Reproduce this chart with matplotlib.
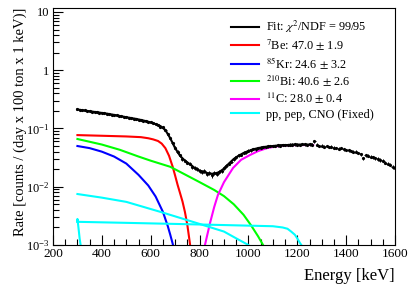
import numpy as np
import matplotlib.pyplot as plt
from matplotlib.ticker import FixedLocator, FuncFormatter, LogLocator, MultipleLocator

# binned data, 10 keV bins
data_energy = list(range(300, 1610, 10))
data_rate = [
    0.215, 0.208, 0.204, 0.205, 0.198, 0.199, 0.194, 0.192, 0.190, 0.186,
    0.186, 0.181, 0.178, 0.178, 0.173, 0.171, 0.168, 0.163, 0.163, 0.158,
    0.156, 0.152, 0.152, 0.147, 0.146, 0.142, 0.141, 0.136, 0.134, 0.131,
    0.128, 0.122, 0.119, 0.116, 0.108, 0.104, 0.094, 0.082, 0.069, 0.056,
    0.047, 0.040, 0.035, 0.030, 0.028, 0.026, 0.025, 0.022, 0.021, 0.0205,
    0.019, 0.018, 0.0185, 0.0165, 0.0172, 0.0158, 0.0172, 0.0165, 0.0182, 0.0190,
    0.0212, 0.0225, 0.0250, 0.0270, 0.0300, 0.0318, 0.0345, 0.0355, 0.0385, 0.0392,
    0.0415, 0.0420, 0.0445, 0.0440, 0.0465, 0.0470, 0.0482, 0.0485, 0.0495, 0.0500,
    0.0505, 0.0498, 0.0515, 0.0510, 0.0525, 0.0518, 0.0522, 0.0530, 0.0528, 0.0535,
    0.0530, 0.0520, 0.0540, 0.0532, 0.0525, 0.0535, 0.0528,
    0.0600, 0.0530, 0.0500, 0.0510, 0.0490, 0.0500, 0.0480, 0.0490, 0.0470, 0.0460,
    0.0450, 0.0460, 0.0440, 0.0430, 0.0420, 0.0410, 0.0400, 0.0400, 0.0380, 0.0360,
    0.0310, 0.0350, 0.0340, 0.0330, 0.0320, 0.0310, 0.0300, 0.0290, 0.0280, 0.0260,
    0.0250, 0.0240, 0.0220, 0.0210,
]
# exposure per bin used for the Poisson error bars
bin_exposure = 8000.0

fit_energy = [300, 320, 340, 360, 380, 400, 420, 440, 460, 480, 500, 520, 540, 560,
              580, 600, 620, 640, 660, 680, 700, 720, 740, 760, 780, 800, 820, 840,
              860, 880, 900, 920, 940, 960, 980, 1000, 1020, 1040, 1060, 1080, 1100,
              1120, 1140, 1160, 1180, 1200, 1220, 1240, 1260]
fit_rate = [0.212, 0.206, 0.200, 0.195, 0.190, 0.185, 0.180, 0.174, 0.168, 0.162,
            0.156, 0.151, 0.146, 0.140, 0.134, 0.127, 0.119, 0.110, 0.094, 0.068,
            0.046, 0.034, 0.028, 0.0245, 0.021, 0.019, 0.0177, 0.0168, 0.0167, 0.0178,
            0.0205, 0.025, 0.030, 0.034, 0.038, 0.041, 0.044, 0.046, 0.048, 0.049,
            0.050, 0.051, 0.052, 0.052, 0.053, 0.053, 0.053, 0.053, 0.053]

be7_energy = [300, 400, 500, 560, 590, 610, 630, 645, 660, 675, 690, 700, 710, 720,
              730, 740, 750, 760, 770]
be7_rate = [0.077, 0.075, 0.073, 0.071, 0.068, 0.065, 0.061, 0.055, 0.046, 0.034,
            0.022, 0.0155, 0.0108, 0.0078, 0.0056, 0.0037, 0.0022, 0.0011, 0.0005]

kr85_energy = [300, 350, 400, 450, 500, 550, 590, 620, 650, 670, 680, 690, 700]
kr85_rate = [0.050, 0.046, 0.040, 0.033, 0.025, 0.016, 0.0105, 0.0068, 0.0037,
             0.0021, 0.0015, 0.00105, 0.0007]

bi210_energy = [300, 400, 474, 550, 600, 680, 720, 800, 860, 900, 940, 980, 1010,
                1040, 1060, 1070]
bi210_rate = [0.066, 0.053, 0.043, 0.033, 0.028, 0.022, 0.018, 0.012, 0.0088, 0.0069,
              0.0050, 0.0033, 0.0022, 0.0014, 0.0010, 0.0008]

c11_energy = [815, 822, 843, 860, 875, 900, 937, 970, 1006, 1040, 1076, 1110, 1150,
              1200, 1265]
c11_rate = [0.0007, 0.001, 0.0024, 0.0045, 0.0072, 0.012, 0.021, 0.029, 0.035, 0.041,
            0.046, 0.049, 0.051, 0.052, 0.052]

cno_energy = [300, 400, 500, 640, 700, 800, 900, 950, 1000, 1010]
cno_rate = [0.0075, 0.0065, 0.0055, 0.0037, 0.0031, 0.0023, 0.0017, 0.0013, 0.001,
            0.0009]

pep_energy = [300, 500, 700, 900, 1100, 1140, 1160, 1175, 1190, 1200, 1210, 1220, 1230]
pep_rate = [0.0025, 0.0024, 0.0023, 0.0022, 0.0021, 0.0020, 0.0019, 0.0017, 0.0015,
            0.0013, 0.0011, 0.00095, 0.0007]

pp_energy = [300, 300, 303, 306, 309, 313, 315]
pp_rate = [0.0025, 0.0028, 0.0022, 0.0017, 0.0013, 0.001, 0.0008]

legend_labels = [
    r"Fit: $\chi^{2}$/NDF = 99/95",
    r"$^{7}$Be: 47.0 $\pm$ 1.9",
    r"$^{85}$Kr: 24.6 $\pm$ 3.2",
    r"$^{210}$Bi: 40.6 $\pm$ 2.6",
    r"$^{11}$C: 28.0 $\pm$ 0.4",
    "pp, pep, CNO (Fixed)",
]


def log_label(value, pos):
    if value == 10:
        return "10"
    if value == 1:
        return "1"
    return r"$\mathregular{10^{-%d}}$" % int(round(-np.log10(value)))


def main():
    plt.rcParams["font.family"] = ["Liberation Serif", "DejaVu Serif"]
    plt.rcParams["mathtext.fontset"] = "stix"

    fig = plt.figure(figsize=(4.15, 2.88), dpi=100)
    ax = fig.add_axes([53 / 415, 1 - 245 / 288, 342 / 415, 237 / 288])

    energy = np.array(data_energy, dtype=float)
    rate = np.array(data_rate)
    err = np.sqrt(rate * bin_exposure) / bin_exposure
    ax.errorbar(energy, rate, yerr=err, xerr=5, fmt="o", color="black", ms=1.3,
                elinewidth=0.7, capsize=0, zorder=3)

    lw = 1.5
    ax.plot(fit_energy, fit_rate, color="black", lw=lw, label=legend_labels[0], zorder=4)
    ax.plot(be7_energy, be7_rate, color="#ff0000", lw=lw, label=legend_labels[1])
    ax.plot(kr85_energy, kr85_rate, color="#0000ff", lw=lw, label=legend_labels[2])
    ax.plot(bi210_energy, bi210_rate, color="#00ff00", lw=lw, label=legend_labels[3])
    ax.plot(c11_energy, c11_rate, color="#ff00ff", lw=lw, label=legend_labels[4])
    ax.plot(cno_energy, cno_rate, color="#00ffff", lw=lw, label=legend_labels[5])
    ax.plot(pep_energy, pep_rate, color="#00ffff", lw=lw)
    ax.plot(pp_energy, pp_rate, color="#00ffff", lw=lw)

    ax.set_yscale("log")
    ax.set_xlim(200, 1600)
    ax.set_ylim(1e-3, 11.7)

    ax.xaxis.set_major_locator(MultipleLocator(200))
    ax.xaxis.set_minor_locator(MultipleLocator(50))
    ax.yaxis.set_major_locator(FixedLocator([1e-3, 1e-2, 1e-1, 1, 10]))
    ax.yaxis.set_major_formatter(FuncFormatter(log_label))
    ax.yaxis.set_minor_locator(LogLocator(base=10, subs=np.arange(2, 10)))
    ax.tick_params(which="both", direction="in", top=False, right=False)
    ax.tick_params(which="major", length=7, width=0.8)
    ax.tick_params(which="minor", length=4, width=0.8)
    ax.tick_params(axis="x", pad=2, labelsize=9.5)
    ax.tick_params(axis="y", pad=2.5, labelsize=9)

    ax.set_xlabel("Energy [keV]", fontsize=12, loc="right")
    ax.xaxis.set_label_coords(1.0, -0.095)
    ax.set_ylabel("Rate [counts / (day x 100 ton x 1 keV)]", fontsize=10.5, loc="top")
    ax.yaxis.set_label_coords(-0.076, 1.0)

    ax.legend(loc="upper left", bbox_to_anchor=(0.505, 0.975), frameon=False,
              fontsize=8.8, handlelength=2.3, handletextpad=0.6, labelspacing=0.2,
              borderaxespad=0)

    fig.savefig("out.png", dpi=100)
    plt.close(fig)


if __name__ == "__main__":
    main()
